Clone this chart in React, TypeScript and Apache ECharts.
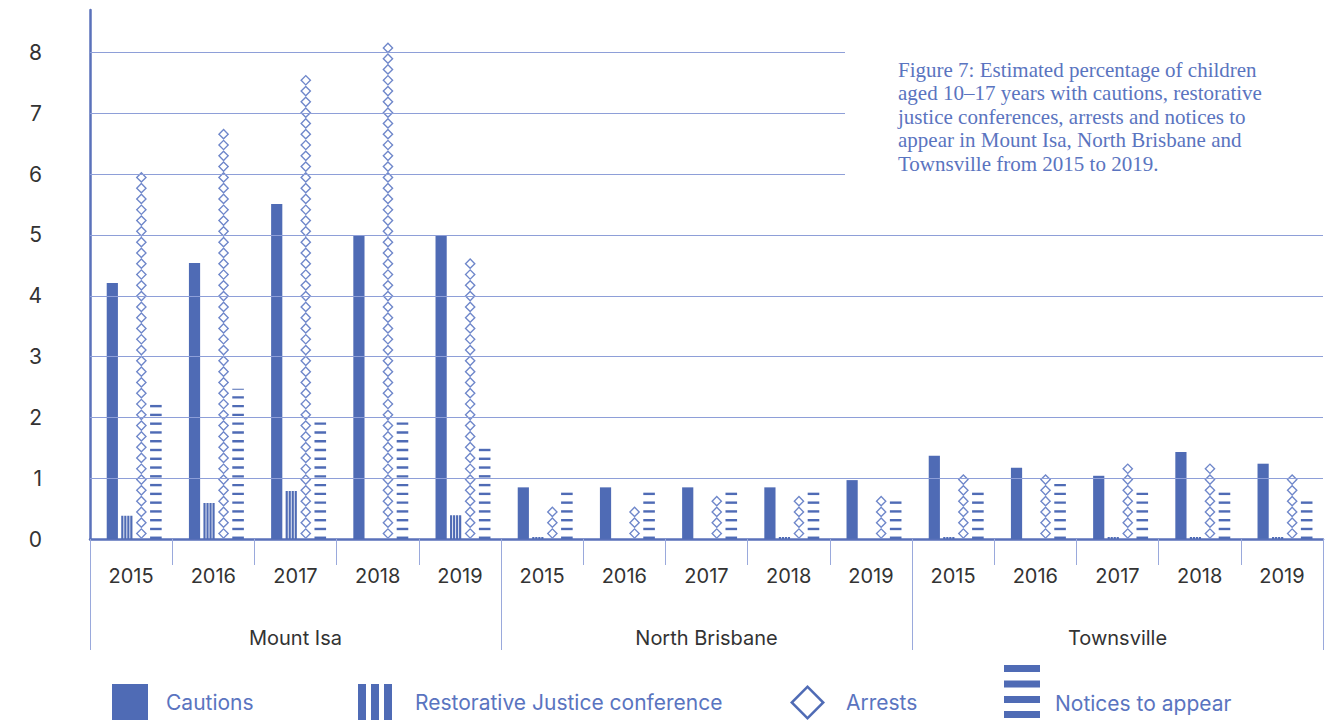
import React, { useEffect, useRef } from 'react';
import * as echarts from 'echarts';

const groups = ['Mount Isa', 'North Brisbane', 'Townsville'];
const years = ['2015', '2016', '2017', '2018', '2019'];
const cautions = [4.21, 4.54, 5.51, 5.0, 5.0, 0.85, 0.85, 0.85, 0.85, 0.97, 1.37, 1.17, 1.04, 1.43, 1.24];
const restorative = [0.38, 0.59, 0.79, 0, 0.39, 0.03, 0, 0, 0.03, 0, 0.03, 0, 0.03, 0.03, 0.03];
const arrests = [6.03, 6.65, 7.5, 8.15, 4.52, 0.42, 0.42, 0.58, 0.58, 0.58, 1.0, 1.0, 1.15, 1.15, 1.0];
const notices = [2.27, 2.47, 1.97, 1.97, 1.58, 0.79, 0.84, 0.79, 0.79, 0.69, 0.84, 0.98, 0.85, 0.79, 0.69];
const gridValues = [1, 2, 3, 4, 5, 6, 7, 8];
const seriesNames = ['Cautions', 'Restorative Justice conference', 'Arrests', 'Notices to appear'];
const titleText =
  'Figure 7: Estimated percentage of children\naged 10\u201317 years with cautions, restorative\njustice conferences, arrests and notices to\nappear in Mount Isa, North Brisbane and\nTownsville from 2015 to 2019.';

const BLUE = '#4f6bb5';
const LIGHT = '#6f87ca';
const GRID = '#8e9fd8';
const AXIS = '#5a71ba';
const TEXT = '#333333';
const LEGEND_TEXT = '#5a74c0';
const SANS = 'Inter, Roboto, sans-serif';

const stripes = 'path://M0,0h2.3v10h-2.3z M3.2,0h2.3v10h-2.3z M6.4,0h2.3v10h-2.3z M9.6,0h2.3v10h-2.3z';
const diamondOutline = 'path://M5.5,0L11,5.5L5.5,11L0,5.5Z M5.5,1.9L1.9,5.5L5.5,9.1L9.1,5.5Z';
const stripesLegend = 'path://M0,0h8v36h-8z M13,0h8v36h-8z M26,0h8v36h-8z';
const diamondLegend = 'path://M17.5,0L35,17.5L17.5,35L0,17.5Z M17.5,3.6L3.6,17.5L17.5,31.4L31.4,17.5Z';
const dashLegend = 'path://M0,0h36v7h-36z M0,15.5h36v7h-36z M0,31h36v7h-36z M0,46h36v7h-36z';

const categories = groups.flatMap((g) => years.map((y) => `${y}|${g}`));

export default function App() {
  const ref = useRef<HTMLDivElement>(null);
  useEffect(() => {
    if (!ref.current) return;
    const chart = echarts.init(ref.current, undefined, { renderer: 'svg' });
    const common = {
      type: 'pictorialBar',
      barWidth: 11,
      barGap: '32%',
      symbolOffset: [3, 0],
      xAxisIndex: 0,
      yAxisIndex: 0,
    };
    const legendText = (padLeft: number) => ({
      fontFamily: SANS,
      fontSize: 21,
      color: LEGEND_TEXT,
      padding: [0, 0, 0, padLeft],
    });
    chart.setOption({
      animation: false,
      backgroundColor: '#ffffff',
      title: {
        text: titleText,
        left: 845,
        top: 40,
        z: 10,
        padding: [18, 140, 25, 53],
        backgroundColor: '#ffffff',
        textStyle: {
          fontFamily: '"Liberation Serif", serif',
          fontSize: 21,
          fontWeight: 'normal',
          color: '#5a74c0',
          lineHeight: 23.5,
        },
      },
      grid: { left: 90, right: 12, top: 10, bottom: 181, containLabel: false },
      legend: [
        {
          left: 112, top: 684, padding: 0, itemWidth: 36, itemHeight: 36, selectedMode: false,
          data: [{ name: seriesNames[0], icon: 'rect' }],
          textStyle: legendText(13),
        },
        {
          left: 358, top: 684, padding: 0, itemWidth: 34, itemHeight: 36, selectedMode: false,
          data: [{ name: seriesNames[1], icon: stripesLegend }],
          textStyle: legendText(18),
        },
        {
          left: 790, top: 685, padding: 0, itemWidth: 35, itemHeight: 35, selectedMode: false,
          data: [{ name: seriesNames[2], icon: diamondLegend, itemStyle: { color: BLUE } }],
          textStyle: legendText(16),
        },
        {
          left: 1004, top: 665, padding: 0, itemWidth: 36, itemHeight: 53, selectedMode: false,
          data: [{ name: seriesNames[3], icon: dashLegend }],
          formatter: (n: string) => '\n' + n,
          textStyle: { ...legendText(10), lineHeight: 24 },
        },
      ],
      xAxis: [
        {
          type: 'category',
          data: categories,
          position: 'bottom',
          axisLine: { show: true, lineStyle: { color: AXIS, width: 2.5 } },
          axisTick: { show: true, interval: 0, length: 26, lineStyle: { color: '#9aa9dc', width: 1 } },
          axisLabel: {
            interval: 0, margin: 27, fontSize: 20, color: TEXT, fontFamily: SANS,
            formatter: (v: string) => v.split('|')[0],
          },
          splitLine: { show: false },
        },
        {
          type: 'category',
          data: groups,
          position: 'bottom',
          axisLine: { show: false },
          axisTick: { show: true, interval: 0, length: 111, lineStyle: { color: '#9aa9dc', width: 1 } },
          axisLabel: { interval: 0, margin: 89, fontSize: 20, color: TEXT, fontFamily: SANS },
          splitLine: { show: false },
        },
      ],
      yAxis: {
        type: 'value',
        min: 0,
        max: 8.7,
        interval: 1,
        axisLine: { show: true, lineStyle: { color: AXIS, width: 2.5 } },
        axisTick: { show: false },
        splitLine: { show: false },
        axisLabel: {
          fontSize: 21, color: TEXT, margin: 48, fontFamily: SANS,
          formatter: (v: number) => (Number.isInteger(v) ? String(v) : ''),
        },
      },
      series: [
        {
          ...common,
          name: seriesNames[0],
          data: cautions,
          symbol: 'rect',
          symbolSize: ['100%', '100%'],
          itemStyle: { color: BLUE },
          markLine: {
            silent: true,
            symbol: ['none', 'none'],
            label: { show: false },
            lineStyle: { color: GRID, width: 1.2, type: 'solid' },
            data: gridValues.map((v) => ({ yAxis: v })),
          },
        },
        {
          ...common,
          name: seriesNames[1],
          data: restorative,
          symbol: stripes,
          symbolSize: ['100%', '100%'],
          symbolKeepAspect: false,
          itemStyle: { color: BLUE },
        },
        {
          ...common,
          name: seriesNames[2],
          data: arrests,
          symbol: diamondOutline,
          symbolSize: [11, 11],
          symbolRepeat: true,
          symbolClip: false,
          symbolMargin: 0,
          itemStyle: { color: LIGHT },
        },
        {
          ...common,
          name: seriesNames[3],
          data: notices,
          symbol: 'rect',
          symbolSize: [11.5, 2.5],
          symbolRepeat: true,
          symbolClip: true,
          symbolMargin: 3.2,
          itemStyle: { color: BLUE },
        },
      ],
    });
    return () => chart.dispose();
  }, []);
  return <div ref={ref} style={{ position: 'absolute', left: 0, top: 0, width: 1335, height: 720 }} />;
}
